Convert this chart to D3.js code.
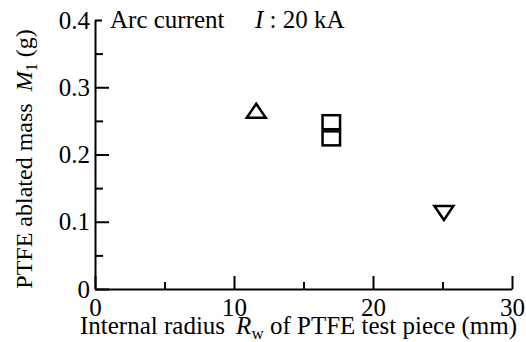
<!DOCTYPE html>
<html>
<head>
<meta charset="utf-8">
<script src="https://cdn.jsdelivr.net/npm/d3@7"></script>
<style>
  body { margin: 0; background: #fff; }
  svg text { font-family: "Liberation Serif", "DejaVu Serif", serif; fill: #000; }
  .axis path, .axis line { stroke: #000; stroke-width: 2; }
  .axis text { font-size: 25px; }
</style>
</head>
<body>
<div id="chart"></div>
<script>
// data
var xMajorTicks = [0, 10, 20, 30],
    xMinorTicks = [5, 15, 25],
    yMajorTicks = [0, 0.1, 0.2, 0.3, 0.4],
    yMinorTicks = [0.05, 0.15, 0.25, 0.35];

var upR = [11.6], upM = [0.265];          // triangle up
var sqR = [17, 17], sqM = [0.248, 0.224]; // squares
var downR = [25.1], downM = [0.113];      // triangle down

var W = 526, H = 342;
var margin = {left: 95, top: 20, right: 14, bottom: 53},
    width = W - margin.left - margin.right,
    height = H - margin.top - margin.bottom;

var svg = d3.select("#chart").append("svg")
    .attr("width", W)
    .attr("height", H);

var g = svg.append("g")
    .attr("transform", `translate(${margin.left},${margin.top})`);

var x = d3.scaleLinear().domain([0, 30]).range([0, width]);
var y = d3.scaleLinear().domain([0, 0.4]).range([height, 0]);

// x axis
var xAxisG = g.append("g")
    .attr("class", "axis")
    .attr("transform", `translate(0,${height})`);
xAxisG.call(d3.axisBottom(x).tickValues(xMajorTicks).tickSize(-13).tickSizeOuter(0).tickPadding(9));
g.append("g")
    .attr("class", "axis")
    .attr("transform", `translate(0,${height})`)
    .call(d3.axisBottom(x).tickValues(xMinorTicks).tickSize(-7).tickSizeOuter(0).tickFormat(""))
    .select(".domain").remove();

// y axis
var yAxisG = g.append("g").attr("class", "axis");
yAxisG.call(d3.axisLeft(y).tickValues(yMajorTicks).tickSize(-14).tickSizeOuter(0).tickPadding(5)
    .tickFormat(function(d) { return d === 0 ? "0" : d3.format(".1f")(d); }));
yAxisG.selectAll(".tick").filter(function(d) { return d === 0.4; })
    .select("line").attr("x2", 7);
g.append("g")
    .attr("class", "axis")
    .call(d3.axisLeft(y).tickValues(yMinorTicks).tickSize(-8).tickSizeOuter(0).tickFormat(""))
    .select(".domain").remove();

// markers
var marks = g.append("g")
    .attr("fill", "none")
    .attr("stroke", "#000")
    .attr("stroke-width", 2.5);

var tw = 9.5, th = 7;
marks.selectAll(".up")
    .data(d3.zip(upR, upM))
    .enter().append("path")
    .attr("d", function(d) {
        var cx = x(d[0]), cy = y(d[1]);
        return `M${cx},${cy - th}L${cx + tw},${cy + th}L${cx - tw},${cy + th}Z`;
    });

marks.selectAll(".down")
    .data(d3.zip(downR, downM))
    .enter().append("path")
    .attr("d", function(d) {
        var cx = x(d[0]), cy = y(d[1]);
        return `M${cx - tw},${cy - th}L${cx + tw},${cy - th}L${cx},${cy + th}Z`;
    });

var sw = 17.5, sh = 14;
marks.selectAll("rect")
    .data(d3.zip(sqR, sqM))
    .enter().append("rect")
    .attr("x", function(d) { return x(d[0]) - sw / 2; })
    .attr("y", function(d) { return y(d[1]) - sh / 2; })
    .attr("width", sw)
    .attr("height", sh);

// annotation
var note = g.append("text")
    .attr("x", 15)
    .attr("y", 8)
    .style("font-size", "25px");
note.append("tspan").text("Arc current");
note.append("tspan").attr("x", 160).style("font-style", "italic").text("I");
note.append("tspan").text(" : 20 kA");

// axis titles
var xt = svg.append("text")
    .attr("x", 80)
    .attr("y", 334)
    .style("font-size", "25px");
xt.append("tspan").text("Internal radius");
xt.append("tspan").attr("dx", 11).style("font-style", "italic").text("R");
xt.append("tspan").attr("dy", 5).style("font-size", "17px").text("w");
xt.append("tspan").attr("dy", -5).text(" of PTFE test piece (mm)");

var yt = svg.append("text")
    .attr("transform", "translate(32,159) rotate(-90)")
    .attr("text-anchor", "middle")
    .style("font-size", "24px");
yt.append("tspan").text("PTFE ablated mass\u2002");
yt.append("tspan").style("font-style", "italic").text("M");
yt.append("tspan").attr("dy", 5).style("font-size", "16px").text("1");
yt.append("tspan").attr("dy", -5).text(" (g)");
</script>
</body>
</html>
